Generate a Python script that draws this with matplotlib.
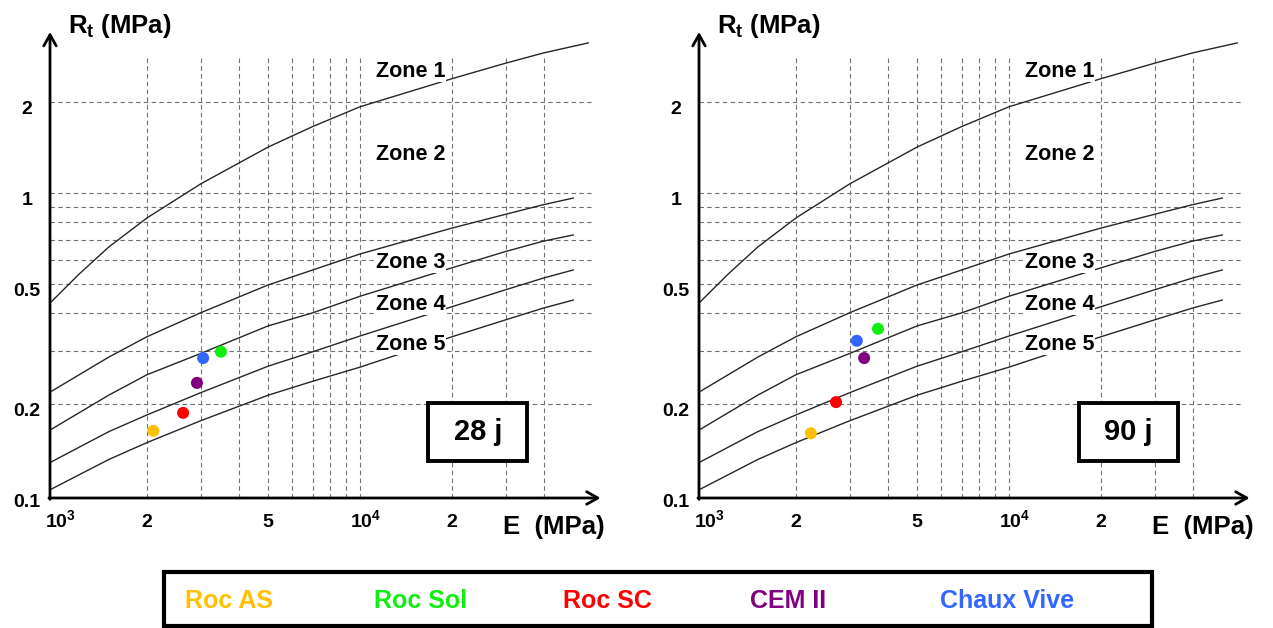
import matplotlib
matplotlib.use('Agg')
import matplotlib.pyplot as plt
import matplotlib.transforms as mtransforms
from matplotlib.patches import Rectangle

plt.rcParams['font.family'] = ['Liberation Sans', 'DejaVu Sans']
plt.rcParams['mathtext.fontset'] = 'custom'
plt.rcParams['mathtext.rm'] = 'Liberation Sans'
plt.rcParams['mathtext.bf'] = 'Liberation Sans:bold'
plt.rcParams['mathtext.it'] = 'Liberation Sans:italic'

# ---------------- data ----------------
# zone boundary curves (E in MPa, Rt in MPa)
E_upper = [963, 1200, 1500, 2000, 3000, 5000, 7000, 10000, 20000, 30000, 40000, 56000]
zone_1_2 = [0.432, 0.539, 0.662, 0.826, 1.071, 1.42, 1.66, 1.93, 2.39, 2.69, 2.91, 3.14]
E_lower = [963, 1500, 2000, 3000, 5000, 7000, 10000, 20000, 30000, 40000, 50000]
zone_2_3 = [0.219, 0.286, 0.334, 0.401, 0.496, 0.556, 0.628, 0.765, 0.850, 0.915, 0.962]
zone_3_4 = [0.164, 0.214, 0.250, 0.294, 0.363, 0.401, 0.455, 0.565, 0.640, 0.693, 0.726]
zone_4_5 = [0.128, 0.162, 0.184, 0.218, 0.267, 0.298, 0.336, 0.420, 0.478, 0.523, 0.556]
zone_5_6 = [0.104, 0.131, 0.149, 0.176, 0.214, 0.238, 0.265, 0.334, 0.380, 0.416, 0.442]

zone_labels = ['Zone 1', 'Zone 2', 'Zone 3', 'Zone 4', 'Zone 5']

materials = ['Roc AS', 'Roc Sol', 'Roc SC', 'CEM II', 'Chaux Vive']
colors = ['#FFC000', '#11EE11', '#FF0000', '#800080', '#3366FF']
E_28 = [2100, 3500, 2630, 2920, 3060]
Rt_28 = [0.163, 0.298, 0.187, 0.235, 0.284]
E_90 = [2240, 3720, 2710, 3350, 3170]
Rt_90 = [0.160, 0.355, 0.203, 0.284, 0.324]

ages = ['28 j', '90 j']

x_grid = [2000, 3000, 4000, 5000, 6000, 7000, 8000, 9000, 10000, 20000, 30000, 40000]
y_grid = [0.2, 0.3, 0.4, 0.5, 0.6, 0.7, 0.8, 0.9, 1, 2]
y_ticks = [2, 1, 0.5, 0.2, 0.1]
y_ticklabels = ['2', '1', '0.5', '0.2', '0.1']
x_ticks = [1000, 2000, 5000, 10000, 20000]
x_ticklabels = [r'$\mathbf{10^{3}}$', '2', '5', r'$\mathbf{10^{4}}$', '2']

# ---------------- layout ----------------
W, H = 1273, 628
fig = plt.figure(figsize=(W / 100, H / 100), dpi=100)


def add_px_axes(x0, x1, ytop, ybot):
    return fig.add_axes([x0 / W, 1 - ybot / H, (x1 - x0) / W, (ybot - ytop) / H])


XLIM = (963, 58060)
YLIM = (0.0977, 2.864)
zone_y = [2.42, 1.286, 0.565, 0.410, 0.302]
zone_pad = [0.0, 1.5, 0.0, 0.0, 0.3]
zone_x = 14700

panels = [(50, E_28, Rt_28), (699, E_90, Rt_90)]

for i, (x0, E_pts, Rt_pts) in enumerate(panels):
    ax = add_px_axes(x0, x0 + 543, 55, 498)
    ax.set_xscale('log')
    ax.set_yscale('log')
    ax.set_xlim(*XLIM)
    ax.set_ylim(*YLIM)
    for s in ax.spines.values():
        s.set_visible(False)
    ax.set_xticks([])
    ax.set_yticks([])
    ax.minorticks_off()
    ax.patch.set_alpha(0)

    # grid
    ax.vlines(x_grid, YLIM[0], YLIM[1], colors='#707070', linestyles=(0, (4, 3)),
              linewidth=0.8, zorder=1)
    ax.hlines(y_grid, XLIM[0], XLIM[1], colors='#707070', linestyles=(0, (4, 3)),
              linewidth=0.8, zorder=1)

    # curves
    ax.plot(E_upper, zone_1_2, color='#262626', lw=1.0, zorder=2, clip_on=False)
    for c in (zone_2_3, zone_3_4, zone_4_5, zone_5_6):
        ax.plot(E_lower, c, color='#262626', lw=1.0, zorder=2, clip_on=False)

    # zone labels
    for lab, yv, pd in zip(zone_labels, zone_y, zone_pad):
        ax.text(zone_x, yv, lab, ha='center', va='baseline', fontsize=15.5,
                fontweight='bold', zorder=3,
                bbox=dict(facecolor='white', edgecolor='none', pad=pd))

    # points
    ax.scatter(E_pts, Rt_pts, c=colors, s=75, zorder=5, edgecolors='none')

    # axes with arrows
    ax.annotate('', xy=(1.014, 0), xytext=(-0.002, 0), xycoords='axes fraction',
                arrowprops=dict(arrowstyle='->,head_length=0.8,head_width=0.45',
                                lw=2.0, color='black', shrinkA=0, shrinkB=0),
                annotation_clip=False)
    ax.annotate('', xy=(0, 1.052), xytext=(0, -0.003), xycoords='axes fraction',
                arrowprops=dict(arrowstyle='->,head_length=0.8,head_width=0.45',
                                lw=2.0, color='black', shrinkA=0, shrinkB=0),
                annotation_clip=False)

    # y tick labels
    tr_y = mtransforms.offset_copy(
        mtransforms.blended_transform_factory(ax.transAxes, ax.transData),
        fig=fig, x=0, y=-12 * 0.72, units='points')
    for yv, lab in zip(y_ticks, y_ticklabels):
        ax.text(-23 / 543, yv, lab, transform=tr_y, ha='center', va='baseline',
                fontsize=14, fontweight='bold', clip_on=False)
    # x tick labels
    tr_x = mtransforms.offset_copy(
        mtransforms.blended_transform_factory(ax.transData, ax.transAxes),
        fig=fig, x=0, y=-29 * 0.72, units='points')
    for xv, lab in zip(x_ticks, x_ticklabels):
        ax.text(xv * (1.045 if xv in (1000, 10000) else 1.0), 0, lab, transform=tr_x,
                ha='center', va='baseline', fontsize=14, fontweight='bold', clip_on=False)

    # age box
    bx0 = 0.697 if i == 0 else 0.700
    ax.add_patch(Rectangle((bx0, 0.0835), 0.182, 0.131, transform=ax.transAxes,
                           facecolor='white', edgecolor='black', lw=2.8, zorder=6,
                           clip_on=False))
    ax.text(bx0 + 0.091, 0.149, ages[i], transform=ax.transAxes, ha='center',
            va='center', fontsize=21, fontweight='bold', zorder=7)

    # axis titles
    fig.text((x0 + 18) / W, 1 - 33 / H, r'$\mathbf{R_t}$ (MPa)', ha='left',
             va='baseline', fontsize=18.5, fontweight='bold')
    fig.text((x0 + 453) / W, 1 - 534 / H, 'E  (MPa)', ha='left', va='baseline',
             fontsize=18.5, fontweight='bold')

# legend box
fig.patches.append(Rectangle((164 / W, 1 - 626 / H), (1152 - 164) / W, (626 - 572) / H,
                             transform=fig.transFigure, facecolor='white',
                             edgecolor='black', lw=3.0))
legend_x = [185, 374, 563, 750, 940]
for name, col, lx in zip(materials, colors, legend_x):
    fig.text(lx / W, 1 - 608 / H, name, color=col, ha='left', va='baseline',
             fontsize=18, fontweight='bold')

fig.savefig('out.png', dpi=100)
